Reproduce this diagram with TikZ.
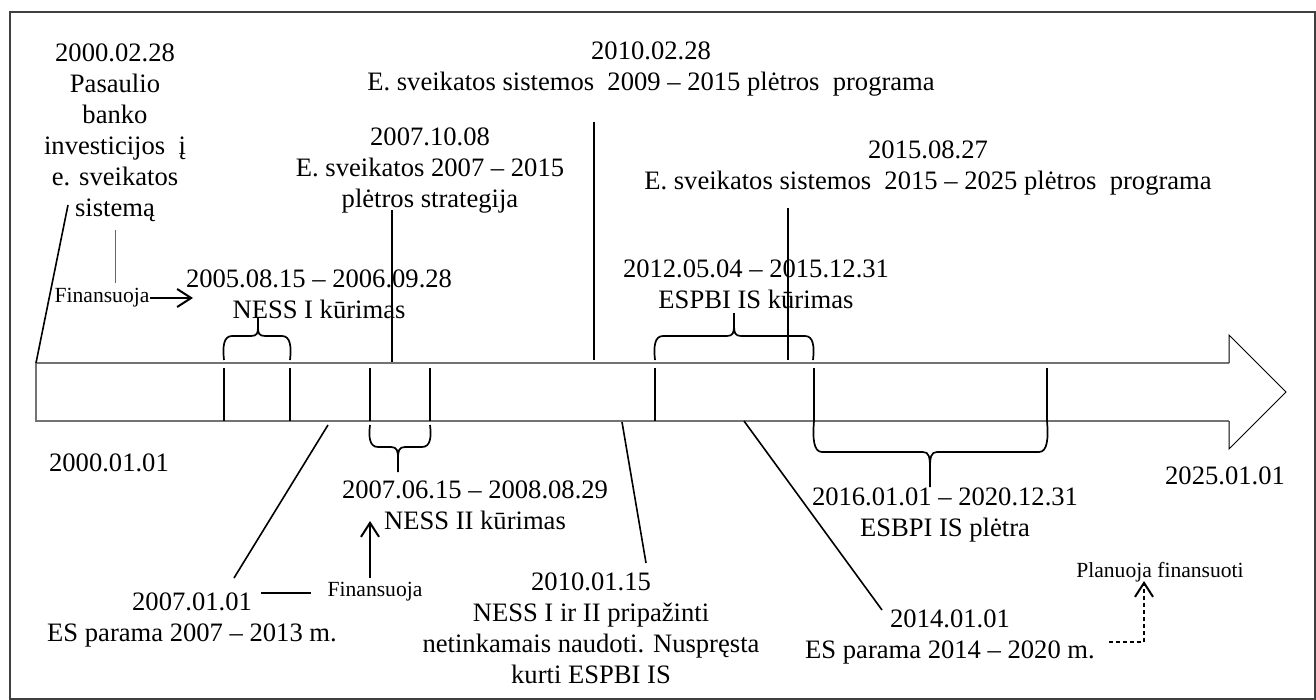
\documentclass[tikz,border=0pt]{standalone}
\usepackage{fontspec}
\setmainfont{Liberation Serif}
\usetikzlibrary{arrows.meta}

% curly brace: x-left, x-right, x-cusp, y-ends, y-bar, y-tip
\newcommand{\tlbrace}[6]{%
  \draw[bracestyle] (#1,#4) .. controls (#1-1.5,{#5+0.45*(#4-#5)}) and (#1-0.5,#5) .. (#1+8,#5)
     -- (#3-7,#5) .. controls (#3-1,#5) and (#3,{#5+0.15*(#6-#5)}) .. (#3,{#5+0.45*(#6-#5)}) -- (#3,#6);
  \draw[bracestyle] (#2,#4) .. controls (#2+1.5,{#5+0.45*(#4-#5)}) and (#2+0.5,#5) .. (#2-8,#5)
     -- (#3+7,#5) .. controls (#3+1,#5) and (#3,{#5+0.15*(#6-#5)}) .. (#3,{#5+0.45*(#6-#5)});
}

\begin{document}
\begin{tikzpicture}[x=0.5pt,y=-0.5pt,
  lbl/.style={font=\fontsize{13.3}{15.5}\selectfont, align=center, inner sep=0pt},
  small/.style={font=\fontsize{10.8}{12}\selectfont, inner sep=0pt},
  conn/.style={line width=0.8pt, black},
  thinconn/.style={line width=0.45pt, black!60},
  bracestyle/.style={line width=0.85pt, black},
  tick/.style={line width=0.85pt, black},
  body/.style={line width=1pt, black!55},
  head/.style={line width=0.5pt, black, line join=miter},
  fund/.style={line width=1pt, -{Straight Barb[length=7pt,width=9pt]}},
  planned/.style={fund, dash pattern=on 2pt off 1.5pt},
]
\useasboundingbox (0,0) rectangle (1316,700);
\draw[line width=0.8pt, black!75] (10,12) rectangle (1315,699);

% timeline arrow
\coordinate (bTL) at (36,363);
\coordinate (bBL) at (36,421);
\coordinate (bTR) at (1229,363);
\coordinate (bBR) at (1229,421);
\coordinate (hT) at (1229,335);
\coordinate (hTip) at (1286,392);
\coordinate (hB) at (1229,449);
\draw[body] (bTR) -- (bTL) -- (bBL) -- (bBR);
\draw[head] (bTR) -- (hT) -- (hTip) -- (hB) -- (bBR);

% labels above the timeline
\node[lbl] (wb) at (115,133) {2000.02.28\\Pasaulio\\banko\\investicijos~~į\\e. sveikatos\\sistemą};
\node[lbl] (p0915) at (651,69) {2010.02.28\\E. sveikatos sistemos~~2009 – 2015 plėtros~~programa};
\node[lbl] (s0715) at (430,171) {2007.10.08\\E. sveikatos 2007 – 2015\\plėtros strategija};
\node[lbl] (p1525) at (928,168) {2015.08.27\\E. sveikatos sistemos~~2015 – 2025 plėtros~~programa};
\node[lbl] (ness1) at (319,294) {2005.08.15 – 2006.09.28\\NESS I kūrimas};
\node[lbl] (espbi) at (756,284) {2012.05.04 – 2015.12.31\\ESPBI IS kūrimas};
\node[small] (fin1) at (102,298) {Finansuoja};

% labels below the timeline
\node[lbl] (start) at (109,463) {2000.01.01};
\node[lbl] (ness2) at (475,505) {2007.06.15 – 2008.08.29\\NESS II kūrimas};
\node[lbl] (end) at (1225,476) {2025.01.01};
\node[lbl] (dev) at (945,515) {2016.01.01 – 2020.12.31\\ESBPI IS plėtra};
\node[lbl] (es07) at (192,620) {2007.01.01\\ES parama 2007 – 2013 m.};
\node[small] (fin2) at (375,592) {Finansuoja};
\node[lbl] (dec) at (591,628) {2010.01.15\\NESS I ir II pripažinti\\netinkamais naudoti. Nuspręsta\\kurti ESPBI IS};
\node[lbl] (es14) at (950,637) {2014.01.01\\ES parama 2014 – 2020 m.};
\node[small] (plan) at (1160,572) {Planuoja finansuoti};

% period ticks inside the timeline
\foreach \x in {224,290,370,430,655,814,1047}
  \draw[tick] (\x,368) -- (\x,421);

% period braces
\tlbrace{224}{290}{258}{360}{336}{317}
\tlbrace{370}{430}{398}{425}{447}{472}
\tlbrace{655}{813}{734}{360}{336}{313}
\tlbrace{814}{1047}{930}{421}{452}{487}

% event connectors
\coordinate (wbEnd) at (68,205);
\draw[conn] (bTL) -- (wbEnd);
\coordinate (wbA) at (115,230);
\coordinate (wbB) at (115,283);
\draw[thinconn] (wbA) -- (wbB);
\coordinate (fin1A) at (150,298);
\coordinate (fin1B) at (193,298);
\draw[fund] (fin1A) -- (fin1B);

\coordinate (s07A) at (392,210);
\coordinate (s07B) at (392,362);
\draw[conn] (s07A) -- (s07B);
\coordinate (p09A) at (594,122);
\coordinate (p09B) at (594,360);
\draw[conn] (p09A) -- (p09B);
\coordinate (p15A) at (788,208);
\coordinate (p15B) at (788,360);
\draw[conn] (p15A) -- (p15B);

\coordinate (es07A) at (328,425);
\coordinate (es07B) at (234,578);
\draw[conn] (es07A) -- (es07B);
\coordinate (es07C) at (261,593);
\coordinate (es07D) at (311,593);
\draw[conn] (es07C) -- (es07D);
\coordinate (fin2A) at (370,578);
\coordinate (fin2B) at (370,521);
\draw[fund] (fin2A) -- (fin2B);

\coordinate (decA) at (622,422);
\coordinate (decB) at (646,563);
\draw[conn] (decA) -- (decB);
\coordinate (es14A) at (744,421);
\coordinate (es14B) at (882,610);
\draw[conn] (es14A) -- (es14B);

\coordinate (planA) at (1109,642);
\coordinate (planB) at (1144,642);
\coordinate (planC) at (1144,581);
\draw[planned] (planA) -- (planB) -- (planC);
\end{tikzpicture}
\end{document}
